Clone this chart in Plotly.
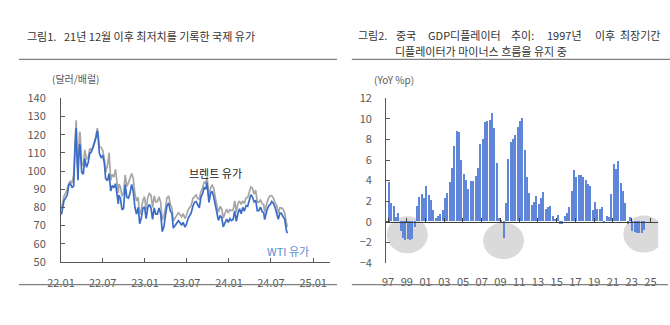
import plotly.graph_objects as go

W, H = 670, 325
FONT = "Noto Sans CJK KR"

# ---------------- Left chart data: international oil prices (USD/bbl) ----------------
oil_dates = [
    "2022-01-03","2022-01-07","2022-01-14","2022-01-21","2022-01-28","2022-02-04","2022-02-11","2022-02-18","2022-02-25",
    "2022-03-04","2022-03-08","2022-03-11","2022-03-16","2022-03-18","2022-03-23","2022-03-25","2022-04-01","2022-04-08",
    "2022-04-14","2022-04-22","2022-04-29","2022-05-06","2022-05-13","2022-05-20","2022-05-27","2022-06-03","2022-06-08",
    "2022-06-10","2022-06-17","2022-06-24","2022-07-01","2022-07-08","2022-07-14","2022-07-22","2022-07-29","2022-08-05",
    "2022-08-12","2022-08-19","2022-08-26","2022-09-02","2022-09-07","2022-09-09","2022-09-16","2022-09-23","2022-09-30",
    "2022-10-07","2022-10-14","2022-10-21","2022-10-28","2022-11-04","2022-11-11","2022-11-18","2022-11-25","2022-12-02",
    "2022-12-09","2022-12-16","2022-12-23","2022-12-30",
    "2023-01-06","2023-01-13","2023-01-20","2023-01-27","2023-02-03","2023-02-10","2023-02-17","2023-02-24","2023-03-03",
    "2023-03-10","2023-03-17","2023-03-24","2023-03-31","2023-04-06","2023-04-14","2023-04-21","2023-04-28","2023-05-04",
    "2023-05-12","2023-05-19","2023-05-26","2023-06-02","2023-06-09","2023-06-16","2023-06-23","2023-06-30","2023-07-07",
    "2023-07-14","2023-07-21","2023-07-28","2023-08-04","2023-08-11","2023-08-18","2023-08-25","2023-09-01","2023-09-08",
    "2023-09-15","2023-09-22","2023-09-27","2023-09-29","2023-10-06","2023-10-13","2023-10-20","2023-10-27","2023-11-03",
    "2023-11-10","2023-11-16","2023-11-24","2023-12-01","2023-12-07","2023-12-15","2023-12-22","2023-12-29",
    "2024-01-05","2024-01-12","2024-01-19","2024-01-26","2024-02-02","2024-02-09","2024-02-16","2024-02-23","2024-03-01",
    "2024-03-08","2024-03-15","2024-03-22","2024-03-28","2024-04-05","2024-04-12","2024-04-19","2024-04-26","2024-05-03",
    "2024-05-10","2024-05-17","2024-05-24","2024-05-31","2024-06-04","2024-06-07","2024-06-14","2024-06-21","2024-06-28",
    "2024-07-05","2024-07-12","2024-07-19","2024-07-26","2024-08-02","2024-08-09","2024-08-16","2024-08-23","2024-08-30",
    "2024-09-06","2024-09-10",
]
wti = [
    76.1,78.9,83.8,85.1,86.8,92.3,93.1,91.1,91.6,
    115.7,123.7,109.3,95.0,104.7,114.9,113.9,99.3,98.3,
    106.9,102.1,104.7,109.8,110.5,113.2,115.1,118.9,122.1,
    120.7,109.6,107.6,108.4,104.8,95.8,94.7,98.6,89.0,
    92.1,90.8,93.1,86.9,81.9,86.8,85.1,78.7,79.5,
    92.6,85.6,85.1,87.9,92.6,89.0,80.1,76.3,80.0,
    71.0,74.3,79.6,80.3,
    73.8,79.9,81.6,79.7,73.4,79.7,76.3,76.3,79.7,
    76.7,66.7,69.3,75.7,80.7,82.5,77.9,76.8,68.6,
    70.0,71.7,72.7,71.7,70.2,71.8,69.2,70.6,73.9,
    75.4,77.1,80.6,82.8,83.2,81.3,79.8,85.6,87.5,
    90.8,90.0,93.7,90.8,82.8,87.7,88.8,85.5,80.5,
    77.2,72.9,75.5,74.1,69.3,71.4,73.6,71.7,
    73.8,72.7,73.4,78.0,72.3,76.8,79.2,76.5,80.0,
    78.0,81.0,80.6,83.2,86.9,85.7,83.1,83.9,78.1,
    78.3,80.1,77.7,77.0,73.3,75.5,78.5,80.7,81.5,
    83.2,82.2,80.1,77.2,73.5,76.8,76.7,74.8,73.6,
    67.7,65.8,
]
brent = [
    79.0,81.8,86.1,87.9,90.0,93.3,94.4,93.5,97.9,
    118.1,128.0,112.7,98.0,107.9,121.6,120.7,104.4,102.8,
    111.7,106.7,107.1,112.4,111.6,112.6,115.6,119.7,123.6,
    122.0,113.1,113.1,111.6,107.0,99.1,103.2,110.0,94.9,
    98.2,96.7,101.0,93.0,88.0,92.8,91.4,86.2,88.0,
    97.9,91.6,93.5,95.8,98.6,96.0,87.6,83.6,85.6,
    76.1,79.0,83.9,85.9,
    78.6,85.3,87.6,86.7,79.9,86.4,83.0,83.2,85.8,
    82.8,73.0,75.0,79.8,85.1,86.3,81.7,79.5,72.5,
    74.2,75.6,77.1,76.1,74.8,76.6,73.9,75.4,78.5,
    79.9,81.1,85.0,86.2,86.8,84.8,84.5,88.6,90.6,
    93.9,93.3,96.6,95.3,84.6,90.9,92.2,90.5,84.9,
    81.4,77.4,80.6,78.9,74.1,76.6,79.1,77.0,
    78.8,78.3,78.6,83.6,77.3,82.2,83.5,81.6,83.6,
    82.1,85.3,85.4,87.5,91.2,90.5,87.3,89.5,83.0,
    82.8,84.0,82.1,81.6,77.5,79.6,82.6,85.2,86.4,
    86.5,85.0,82.6,81.1,76.8,79.7,79.7,79.0,76.9,
    71.1,69.2,
]
oil_ticks = ["2022-01-01","2022-07-01","2023-01-01","2023-07-01","2024-01-01","2024-07-01","2025-01-01"]

# ---------------- Right chart data: China GDP deflator YoY (%p), quarterly ----------------
deflator_years = list(range(1997, 2025))
deflator = [
    3.8, 1.8, 1.5, 0.4,      # 1997
    0.8, -0.9, -1.6, -1.8,   # 1998
    -1.7, -1.8, -1.7, -0.5,  # 1999
    1.5, 2.4, 2.7, 2.3,      # 2000
    3.4, 2.6, 2.1, 1.1,      # 2001
    0.3, 0.5, 0.7, 1.1,      # 2002
    2.3, 2.8, 3.8, 5.2,      # 2003
    7.3, 8.8, 8.7, 6.0,      # 2004
    4.6, 4.0, 3.1, 3.9,      # 2005
    3.9, 4.4, 5.2, 7.5,      # 2006
    8.0, 9.7, 9.75, 9.85,    # 2007
    10.55, 9.1, 5.7, 0.3,    # 2008
    0.1, -1.6, 1.8, 6.1,     # 2009
    7.7, 8.0, 8.4, 9.2,      # 2010
    9.75, 10.1, 6.9, 4.3,    # 2011
    2.8, 1.6, 1.9, 2.5,      # 2012
    1.7, 2.3, 2.9, 1.2,      # 2013
    1.4, 1.5, 0.5, 0.25,     # 2014
    0.6, -0.3, -0.3, 0.55,   # 2015
    0.8, 1.4, 3.0, 5.0,      # 2016
    4.3, 4.5, 4.5, 4.3,      # 2017
    4.0, 3.6, 3.4, 1.1,      # 2018
    1.85, 1.2, 1.2, 1.4,     # 2019
    -0.2, 0.55, 0.45, 2.7,   # 2020
    5.6, 5.1, 5.9, 3.7,      # 2021
    3.0, 1.8, -0.3, 0.4,     # 2022
    -0.9, -1.0, -1.1, -1.1,  # 2023
    -1.1, -0.8,              # 2024
]
deflator_x = []
for y in deflator_years:
    for q in range(4):
        if len(deflator_x) < len(deflator):
            deflator_x.append(y + q * 0.25 + 0.12)
defl_tickvals = list(range(1997, 2026, 2))
defl_ticktext = ["97","99","01","03","05","07","09","11","13","15","17","19","21","23","25"]

# ---------------- Layout geometry ----------------
def px_x(p): return p / W
def px_y(p): return 1 - p / H

L_dom_x = [px_x(48), px_x(323)]
L_dom_y = [px_y(266), px_y(94)]
R_dom_x = [px_x(380), px_x(658)]
R_dom_y = [px_y(267), px_y(94)]
R_yrange = [-4, 12]
zero_pos = R_dom_y[0] + (0 - R_yrange[0]) / (R_yrange[1] - R_yrange[0]) * (R_dom_y[1] - R_dom_y[0])

AX = "#595959"
TICKF = dict(family=FONT, size=11, color="#595959")

fig = go.Figure()

fig.add_trace(go.Scatter(x=oil_dates, y=brent, mode="lines", line=dict(color="#a6a6a6", width=1.7),
                         xaxis="x", yaxis="y", showlegend=False, hoverinfo="skip"))
fig.add_trace(go.Scatter(x=oil_dates, y=wti, mode="lines", line=dict(color="#3a6cc8", width=1.7),
                         xaxis="x", yaxis="y", showlegend=False, hoverinfo="skip"))

fig.add_trace(go.Bar(x=deflator_x, y=deflator, width=0.16, marker=dict(color="#5f86d8", line=dict(width=0)),
                     xaxis="x2", yaxis="y2", showlegend=False, hoverinfo="skip"))
fig.add_trace(go.Scatter(x=[2000], y=[0], mode="markers", marker=dict(opacity=0),
                         xaxis="x3", yaxis="y2", showlegend=False, hoverinfo="skip"))

fig.update_layout(
    width=W, height=H,
    margin=dict(l=0, r=0, t=0, b=0),
    paper_bgcolor="white", plot_bgcolor="rgba(0,0,0,0)",
    font=dict(family=FONT, size=11, color="#404040"),
    bargap=0,
    xaxis=dict(domain=L_dom_x, anchor="y", type="date", range=["2022-01-01", "2025-03-16"],
               tickvals=oil_ticks, tickformat="%y.%m", ticks="inside", ticklen=4, tickcolor=AX,
               showline=True, linecolor=AX, linewidth=1, showgrid=False, zeroline=False,
               tickfont=TICKF, ticklabelstandoff=11),
    yaxis=dict(domain=L_dom_y, anchor="x", range=[50, 140], dtick=10, ticks="inside", ticklen=4,
               tickcolor=AX, showline=True, linecolor=AX, linewidth=1, showgrid=False, zeroline=False,
               tickfont=TICKF, ticklabelstandoff=12),
    xaxis2=dict(domain=R_dom_x, anchor="y2", range=[1996.79, 2025.84], tickvals=defl_tickvals,
                ticktext=defl_ticktext, ticks="", showline=False, showgrid=False, zeroline=False,
                tickfont=TICKF, ticklabelstandoff=11),
    xaxis3=dict(overlaying="x2", anchor="free", position=zero_pos, range=[1996.79, 2025.84],
                tickvals=defl_tickvals, showticklabels=False, ticks="inside", ticklen=4, tickcolor="#404040",
                showline=True, linecolor="#404040", linewidth=1, showgrid=False, zeroline=False),
    yaxis2=dict(domain=R_dom_y, anchor="x2", range=R_yrange, dtick=2, ticks="inside", ticklen=4,
                tickcolor=AX, showline=True, linecolor=AX, linewidth=1, showgrid=False, zeroline=False,
                tickfont=TICKF, ticklabelstandoff=11),
)

# highlight circles (decorative), in data coordinates of right chart
circles = [(1999.06, -1.27), (2009.33, -1.85), (2024.30, -1.2)]
for cx, cy in circles:
    fig.add_shape(type="circle", xref="x2", yref="y2", x0=cx - 2.19, x1=cx + 2.19, y0=cy - 1.8, y1=cy + 1.8,
                  fillcolor="#dadada", line=dict(width=0), layer="below")

# separator lines
for x0, x1, yy in [(5, 330, 53), (345, 670, 53), (5, 330, 290), (345, 668, 290)]:
    fig.add_shape(type="line", xref="paper", yref="paper", x0=px_x(x0), x1=px_x(x1), y0=px_y(yy), y1=px_y(yy),
                  line=dict(color="#808080", width=1.3))

def ann(text, x, y, size=11, color="#333333", xanchor="left"):
    fig.add_annotation(text=text, xref="paper", yref="paper", x=px_x(x), y=px_y(y), xanchor=xanchor,
                       yanchor="middle", showarrow=False, font=dict(family=FONT, size=size, color=color))

# titles
ann("그림1.", 11, 28)
ann("21년 12월 이후 최저치를 기록한 국제 유가", 49, 28)
ann("그림2.", 349, 27)
for word, xx in [("중국", 388), ("GDP디플레이터", 421), ("추이:", 506), ("1997년", 542), ("이후", 591), ("최장기간", 617)]:
    ann(word, xx, 27)
ann("디플레이터가 마이너스 흐름을 유지 중", 387, 44)

# unit labels
ann("(달러/배럴)", 37, 73, size=10, color="#595959")
ann("(YoY %p)", 366, 74, size=10, color="#595959")

# series labels
ann("브렌트 유가", 206, 173, size=11, color="#222222", xanchor="center")
ann("WTI 유가", 280, 255, size=11, color="#5b8bd0", xanchor="center")

fig.write_html("out.html")
